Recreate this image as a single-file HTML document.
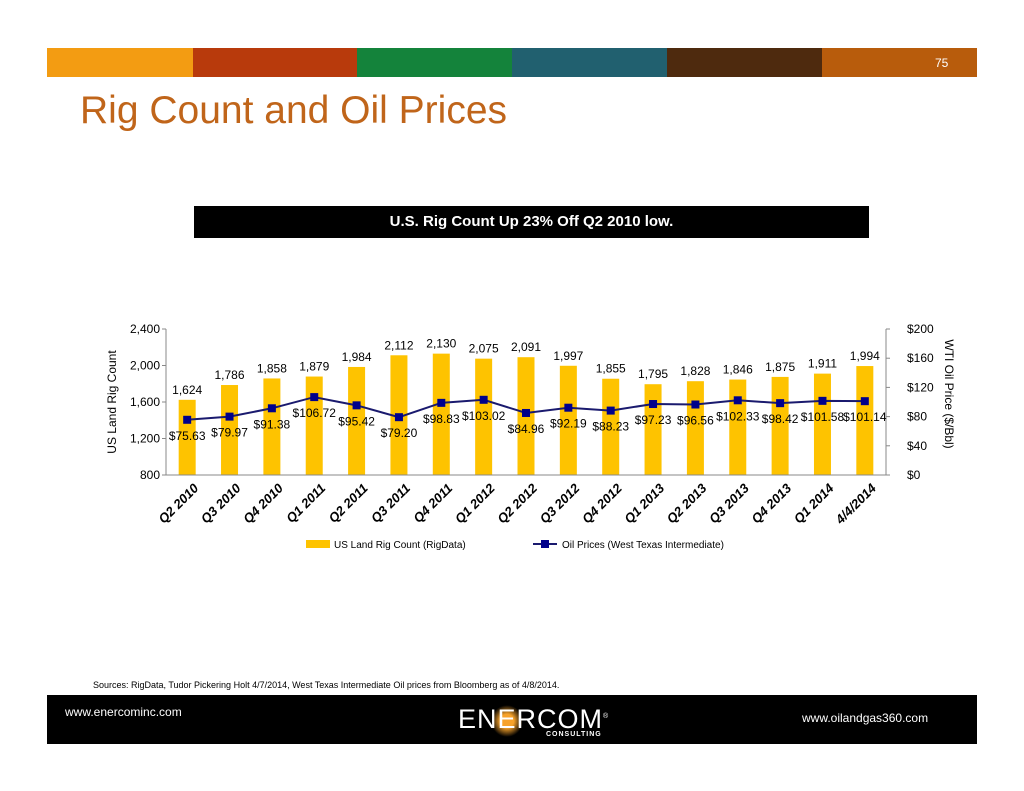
<!DOCTYPE html>
<html><head><meta charset="utf-8"><style>
body{margin:0;width:1024px;height:791px;background:#fff;position:relative;overflow:hidden;font-family:"Liberation Sans",sans-serif}
.abs{position:absolute}
</style></head><body>
<div class="abs" style="left:47px;top:48px;width:930px;height:29px;display:flex">
<div style="width:146px;background:#f39c12"></div><div style="width:164px;background:#b83a0c"></div><div style="width:155px;background:#14833b"></div><div style="width:155px;background:#21606f"></div><div style="width:155px;background:#4e2a0e"></div><div style="width:155px;background:#b85c0c"></div>
</div>
<div class="abs" style="left:935px;top:56px;color:#fff;font-size:12px">75</div>
<div class="abs" style="left:80px;top:89px;color:#c0651a;font-size:39px">Rig Count and Oil Prices</div>
<div class="abs" style="left:194px;top:206px;width:675px;height:32px;background:#000;color:#fff;font-weight:bold;font-size:15px;text-align:center;line-height:32px">U.S. Rig Count Up 23% Off Q2 2010 low.</div>
<svg class="abs" style="left:0;top:0" width="1024" height="791" id="chart" font-family="Liberation Sans, sans-serif"></svg>
<div class="abs" style="left:93px;top:680px;font-size:9px;color:#000">Sources: RigData, Tudor Pickering Holt 4/7/2014, West Texas Intermediate Oil prices from Bloomberg as of 4/8/2014.</div>
<div class="abs" style="left:47px;top:695px;width:930px;height:49px;background:#000"></div>
<div class="abs" style="left:65px;top:705px;color:#fff;font-size:12px">www.enercominc.com</div>
<div class="abs" style="left:802px;top:711px;color:#fff;font-size:12px">www.oilandgas360.com</div>
<div class="abs" style="left:458px;top:704px;color:#fff;font-size:27px;letter-spacing:1px">
<span style="position:absolute;left:34px;top:0;width:30px;height:34px;background:radial-gradient(circle,#f7a22a 30%,rgba(247,162,42,0) 70%)"></span><span style="position:relative">ENERCOM</span><sup style="font-size:7px">®</sup>
<div style="position:absolute;left:88px;top:27px;font-size:7px;font-weight:bold;letter-spacing:1px">CONSULTING</div></div>
<script>
const categories=["Q2 2010","Q3 2010","Q4 2010","Q1 2011","Q2 2011","Q3 2011","Q4 2011","Q1 2012","Q2 2012","Q3 2012","Q4 2012","Q1 2013","Q2 2013","Q3 2013","Q4 2013","Q1 2014","4/4/2014"];
const rigCounts=[1624,1786,1858,1879,1984,2112,2130,2075,2091,1997,1855,1795,1828,1846,1875,1911,1994];
const oilPrices=[75.63,79.97,91.38,106.72,95.42,79.20,98.83,103.02,84.96,92.19,88.23,97.23,96.56,102.33,98.42,101.58,101.14];
const leftTicks=[800,1200,1600,2000,2400];
const rightTicks=[0,40,80,120,160,200];
const svg=document.getElementById('chart');
const NS='http://www.w3.org/2000/svg';
const X0=166,X1=886,YT=329,YB=475;
const slot=(X1-X0)/categories.length;
const xc=i=>X0+slot*(i+0.5);
const yL=v=>YB-(v-800)/1600*(YB-YT);
const yR=v=>YB-v/200*(YB-YT);
function mk(tag,attrs,text){const e=document.createElementNS(NS,tag);for(const k in attrs)e.setAttribute(k,attrs[k]);if(text!==undefined)e.textContent=text;svg.appendChild(e);return e;}
rigCounts.forEach((v,i)=>{
 const b=mk('rect',{x:xc(i)-8.5,y:yL(v),width:17,height:YB-yL(v),fill:'#fec300'});
 
 
 const t=mk('text',{x:xc(i),y:yL(v)-6,'text-anchor':'middle','font-size':12,fill:'#000'},v.toLocaleString('en-US'));
 
 
});
let ax=mk('line',{x1:X0,y1:YT,x2:X0,y2:YB,stroke:'#888'});

ax=mk('line',{x1:X1,y1:YT,x2:X1,y2:YB,stroke:'#888'});

ax=mk('line',{x1:X0,y1:YB,x2:X1,y2:YB,stroke:'#888'});

leftTicks.forEach(v=>{const t=mk('text',{x:X0-6,y:yL(v)+4,'text-anchor':'end','font-size':12},v.toLocaleString('en-US'));
 
 mk('line',{x1:X0-4,y1:yL(v),x2:X0,y2:yL(v),stroke:'#888'});});
rightTicks.forEach(v=>{const t=mk('text',{x:X1+21,y:yR(v)+4,'font-size':12},'$'+v);
 
 mk('line',{x1:X1,y1:yR(v),x2:X1+4,y2:yR(v),stroke:'#888'});});
let ln=mk('polyline',{points:oilPrices.map((v,i)=>xc(i)+','+yR(v)).join(' '),fill:'none',stroke:'#1a1a6e','stroke-width':2});

oilPrices.forEach((v,i)=>{
 const p=mk('rect',{x:xc(i)-4,y:yR(v)-4,width:8,height:8,fill:'#00008b'});
 
 const t=mk('text',{x:xc(i),y:yR(v)+20,'text-anchor':'middle','font-size':12},'$'+v.toFixed(2));
 
});
categories.forEach((c,i)=>{
 const t=mk('text',{transform:`translate(${xc(i)+12},${YB+14}) rotate(-45)`,'text-anchor':'end','font-size':13,'font-weight':'bold','font-style':'italic'},c);
 
});
let t=mk('text',{transform:`translate(116,402) rotate(-90)`,'text-anchor':'middle','font-size':12},'US Land Rig Count');

t=mk('text',{transform:`translate(945,394) rotate(90)`,'text-anchor':'middle','font-size':12},'WTI Oil Price ($/Bbl)');

let g=mk('rect',{x:306,y:540,width:24,height:8,fill:'#fec300'});

t=mk('text',{x:334,y:548,'font-size':10},'US Land Rig Count (RigData)');

mk('line',{x1:533,y1:544,x2:557,y2:544,stroke:'#1a1a6e','stroke-width':2});
g=mk('rect',{x:541,y:540,width:8,height:8,fill:'#00008b'});

t=mk('text',{x:562,y:548,'font-size':10},'Oil Prices (West Texas Intermediate)');

</script>
</body></html>
